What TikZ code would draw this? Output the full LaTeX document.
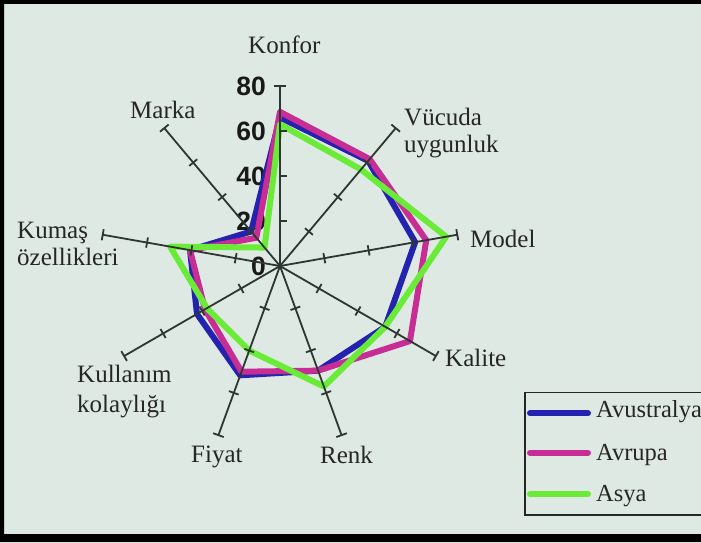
\documentclass[tikz,border=0pt]{standalone}
\usepackage{fontspec}
\setmainfont{Liberation Serif}
\setsansfont{Liberation Sans}
\definecolor{bgc}{RGB}{223,233,227}
\definecolor{axisc}{RGB}{45,55,50}
\definecolor{blueS}{RGB}{35,35,175}
\definecolor{magS}{RGB}{200,45,150}
\definecolor{greenS}{RGB}{105,235,55}
\begin{document}
\begin{tikzpicture}[x=1pt,y=1pt,
  lbl/.style={font=\fontsize{25}{28}\selectfont, inner sep=0pt, text=black!85},
  leg/.style={font=\fontsize{24.5}{26}\selectfont, inner sep=0pt, text=black!85, anchor=base west},
  num/.style={font=\sffamily\bfseries\fontsize{26.5}{28}\selectfont, inner sep=0pt, anchor=east, text=black!90},
  axisline/.style={draw=axisc, line width=1.8pt},
  series/.style={line width=6pt, line join=round},
  legline/.style={line width=6pt, line cap=round},
]
\useasboundingbox (0,0) rectangle (701,542);
\fill[bgc] (0,0) rectangle (701,542);

% value labels
\node[num] (n0)  at (266,276) {0};
\node[num] (n20) at (266,321) {20};
\node[num] (n40) at (266,366) {40};
\node[num] (n60) at (266,411) {60};
\node[num] (n80) at (266,456) {80};

\begin{scope}[shift={(280,276)}, x=2.25pt, y=2.25pt]
  % Avustralya
  \coordinate (b1) at (90:66);   \coordinate (b2) at (50:61);
  \coordinate (b3) at (10:61);   \coordinate (b4) at (-30:54);
  \coordinate (b5) at (-70:49.5);\coordinate (b6) at (-110:51.7);
  \coordinate (b7) at (-150:42.6);\coordinate (b8) at (170:40.6);
  \coordinate (b9) at (130:20);
  % Avrupa
  \coordinate (m1) at (90:68.5); \coordinate (m2) at (50:62);
  \coordinate (m3) at (10:66);   \coordinate (m4) at (-30:66.7);
  \coordinate (m5) at (-70:49.5);\coordinate (m6) at (-110:50);
  \coordinate (m7) at (-150:38.5);\coordinate (m8) at (170:40.6);
  \coordinate (m9) at (130:16.4);
  % Asya
  \coordinate (g1) at (90:63);   \coordinate (g2) at (50:56);
  \coordinate (g3) at (10:75);   \coordinate (g4) at (-30:54);
  \coordinate (g5) at (-70:57);  \coordinate (g6) at (-110:40);
  \coordinate (g7) at (-150:37.5);\coordinate (g8) at (170:49.6);
  \coordinate (g9) at (130:10.7);

  \draw[series, blueS] (b1) -- (b2) -- (b3) -- (b4) -- (b5) -- (b6) -- (b7) -- (b8) -- (b9) -- cycle;
  \draw[series, magS] (m1) -- (m2) -- (m3) -- (m4) -- (m5) -- (m6) -- (m7) -- (m8) -- (m9) -- cycle;
  \draw[series, greenS] (g1) -- (g2) -- (g3) -- (g4) -- (g5) -- (g6) -- (g7) -- (g8) -- (g9) -- cycle;

  % axes
  \foreach \a in {50,10,-30,-70,-110,-150,170,130}{
    \begin{scope}[rotate=\a]
      \draw[axisline] (0,0) -- (80,0);
      \foreach \r in {20,40,60} \draw[axisline] (\r,-2.3) -- (\r,2.3);
      \draw[axisline] (80,-2.5) -- (80,2.5);
    \end{scope}
  }
  \draw[axisline] (0,0) -- (0,80);
  \foreach \r in {20,40,60} \draw[axisline] (0,\r) -- (3.2,\r);
  \draw[axisline] (-2.6,80) -- (2.8,80);
\end{scope}

% category labels
\node[lbl, anchor=base west] (konfor) at (248,488) {Konfor};
\node[lbl, anchor=north west, align=left, font=\fontsize{25}{27.7}\selectfont] (vucuda) at (404,434.5) {Vücuda\\uygunluk};
\node[lbl, anchor=base west] (model) at (470,295) {Model};
\node[lbl, anchor=base west] (kalite) at (445,176) {Kalite};
\node[lbl, anchor=base west] (renk) at (320,79) {Renk};
\node[lbl, anchor=base west] (fiyat) at (191,80) {Fiyat};
\node[lbl, anchor=north west, align=left, font=\fontsize{25}{29.5}\selectfont] (kullanim) at (77,177) {Kullanım\\kolaylığı};
\node[lbl, anchor=north west, align=left, font=\fontsize{25}{27.4}\selectfont] (kumas) at (17,320.3) {Kumaş\\özellikleri};
\node[lbl, anchor=base west] (marka) at (130,424) {Marka};

% legend
\draw[black!85, line width=1.3pt] (525,27) rectangle (730,149.3);
\coordinate (la1) at (530,128.7); \coordinate (la2) at (588,128.7);
\coordinate (lb1) at (530,89.3);  \coordinate (lb2) at (588,89.3);
\coordinate (lc1) at (530,47.7);  \coordinate (lc2) at (588,47.7);
\draw[legline, blueS] (la1) -- (la2);
\draw[legline, magS] (lb1) -- (lb2);
\draw[legline, greenS] (lc1) -- (lc2);
\node[leg] (lega) at (596,125) {Avustralya};
\node[leg] (legb) at (596,82) {Avrupa};
\node[leg] (legc) at (596,40.3) {Asya};

% outer frame
\fill[black, even odd rule] (0,0) rectangle (701,542) (4,8) rectangle (701,538);
\end{tikzpicture}
\end{document}
